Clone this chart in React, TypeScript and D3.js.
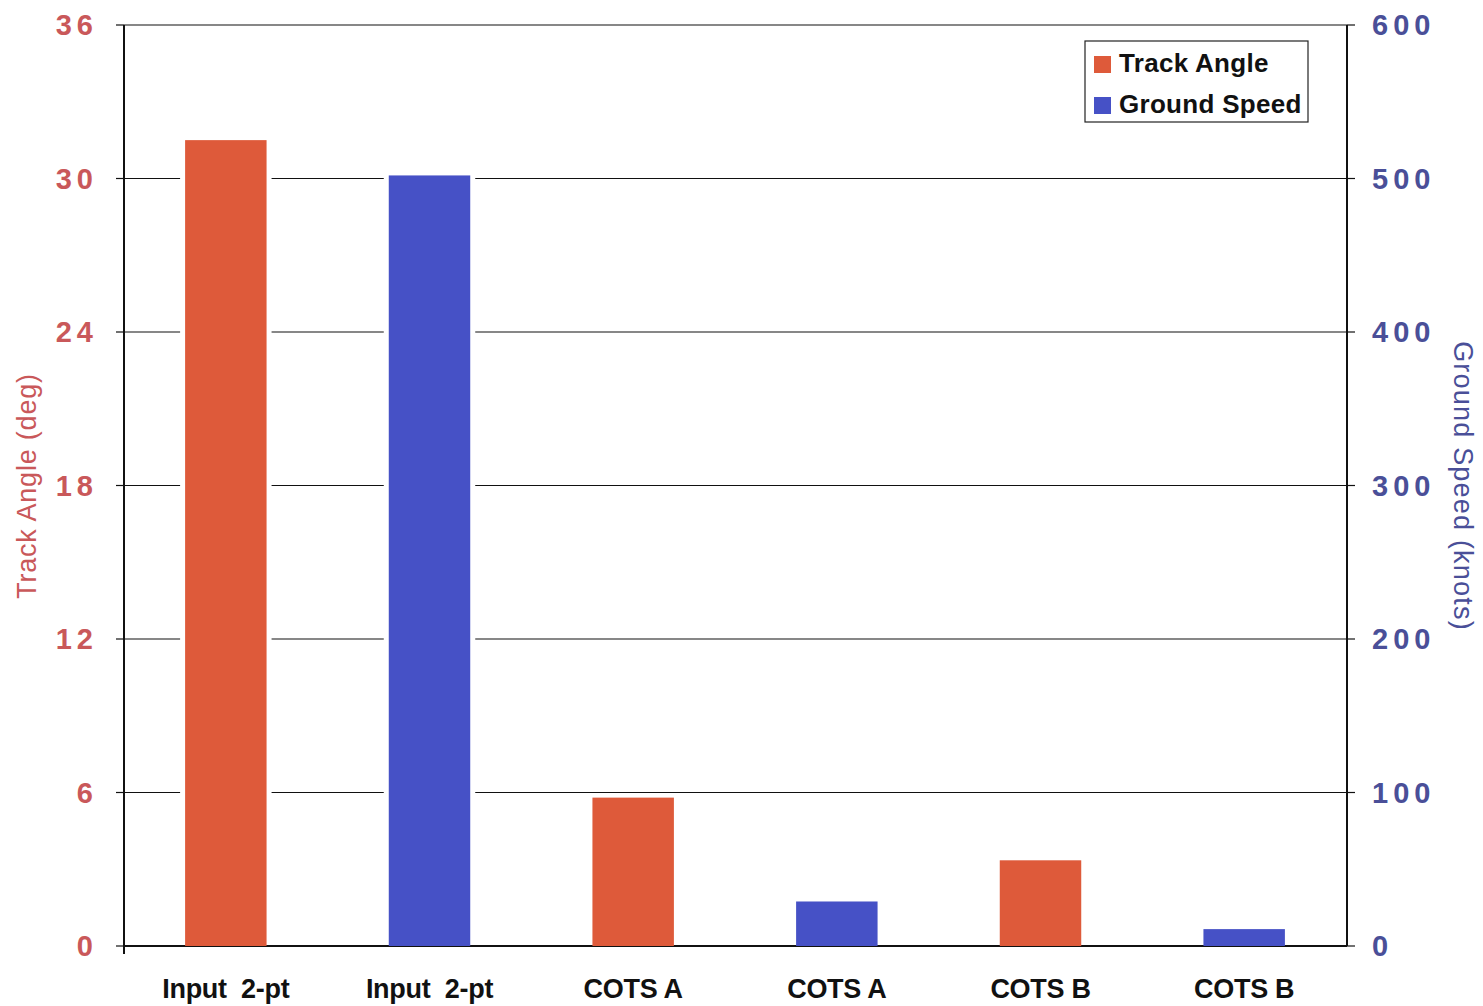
import React from "react";
import * as d3 from "d3";

const categories = ["Input  2-pt", "Input  2-pt", "COTS A", "COTS A", "COTS B", "COTS B"];
const seriesOf = ["angle", "speed", "angle", "speed", "angle", "speed"];
const values = [31.5, 502, 5.8, 29, 3.35, 11];
const leftTicks = [0, 6, 12, 18, 24, 30, 36];
const rightTicks = [0, 100, 200, 300, 400, 500, 600];
const legendItems = [
  { key: "angle", label: "Track Angle" },
  { key: "speed", label: "Ground Speed" },
];

const RED = "#de5a3a";
const BLUE = "#4651c6";
const RED_TXT = "#c9585a";
const BLUE_TXT = "#4a4f98";

export default function App() {
  const W = 1483, H = 1006;
  const left = 124, right = 1347, top = 25, bottom = 946;
  const x = d3.scaleBand<number>().domain(d3.range(categories.length)).range([124, 1346]).paddingInner(0.6).paddingOuter(0.3);
  const yL = d3.scaleLinear().domain([0, 36]).range([bottom, top]);
  const yR = d3.scaleLinear().domain([0, 600]).range([bottom, top]);
  const font = "'Liberation Sans', Arial, sans-serif";
  const yOf = (i: number) => (seriesOf[i] === "angle" ? yL(values[i]) : yR(values[i]));

  return (
    <svg width={W} height={H} style={{ position: "absolute", left: 0, top: 0, background: "#fff" }} fontFamily={font}>
      {leftTicks.map((t) => (
        <line key={"g" + t} x1={left} x2={right} y1={yL(t)} y2={yL(t)} stroke="#111" strokeWidth={t === 0 ? 2 : 1.2} />
      ))}
      {values.map((_, i) => (
        <rect key={"h" + i} x={(x(i) as number) - 5} y={yOf(i) - 3} width={x.bandwidth() + 10} height={bottom - yOf(i) + 2} fill="#fff" />
      ))}
      {values.map((_, i) => (
        <rect key={"b" + i} x={x(i)} y={yOf(i)} width={x.bandwidth()} height={bottom - yOf(i)} fill={seriesOf[i] === "angle" ? RED : BLUE} />
      ))}
      <line x1={left} x2={left} y1={top} y2={bottom + 8} stroke="#111" strokeWidth={2} />
      <line x1={right} x2={right} y1={top} y2={bottom} stroke="#111" strokeWidth={2} />
      {leftTicks.map((t) => (
        <line key={"lt" + t} x1={left - 8} x2={left} y1={yL(t)} y2={yL(t)} stroke="#111" strokeWidth={1.2} />
      ))}
      {rightTicks.map((t) => (
        <line key={"rt" + t} x1={right} x2={right + 8} y1={yR(t)} y2={yR(t)} stroke="#111" strokeWidth={1.2} />
      ))}
      {leftTicks.map((t) => (
        <text key={"ll" + t} x={98} y={yL(t)} dy="0.36em" textAnchor="end" fontSize={29} fontWeight="bold" letterSpacing={5} fill={RED_TXT}>
          {t}
        </text>
      ))}
      {rightTicks.map((t) => (
        <text key={"rl" + t} x={1372} y={yR(t)} dy="0.36em" textAnchor="start" fontSize={29} fontWeight="bold" letterSpacing={5} fill={BLUE_TXT}>
          {t}
        </text>
      ))}
      <text transform="translate(36,486) rotate(-90)" textAnchor="middle" fontSize={27} letterSpacing={0.8} fill={RED_TXT}>
        Track Angle (deg)
      </text>
      <text transform="translate(1454,486) rotate(90)" textAnchor="middle" fontSize={27} letterSpacing={1.2} fill={BLUE_TXT}>
        Ground Speed (knots)
      </text>
      {categories.map((c, i) => (
        <text key={"c" + i} x={(x(i) as number) + x.bandwidth() / 2} y={998} textAnchor="middle" fontSize={27} fontWeight="bold" fill="#111" style={{ whiteSpace: "pre" }} letterSpacing={-0.3}>
          {c}
        </text>
      ))}
      <rect x={1085} y={41} width={223} height={81} fill="#fff" stroke="#222" strokeWidth={1.2} />
      {legendItems.map((d, i) => (
        <g key={d.key} transform={`translate(1094,${56 + i * 41})`}>
          <rect width={17} height={17} fill={d.key === "angle" ? RED : BLUE} />
          <text x={25} y={16} fontSize={26} fontWeight="bold" fill="#111" letterSpacing={0.3}>
            {d.label}
          </text>
        </g>
      ))}
    </svg>
  );
}
